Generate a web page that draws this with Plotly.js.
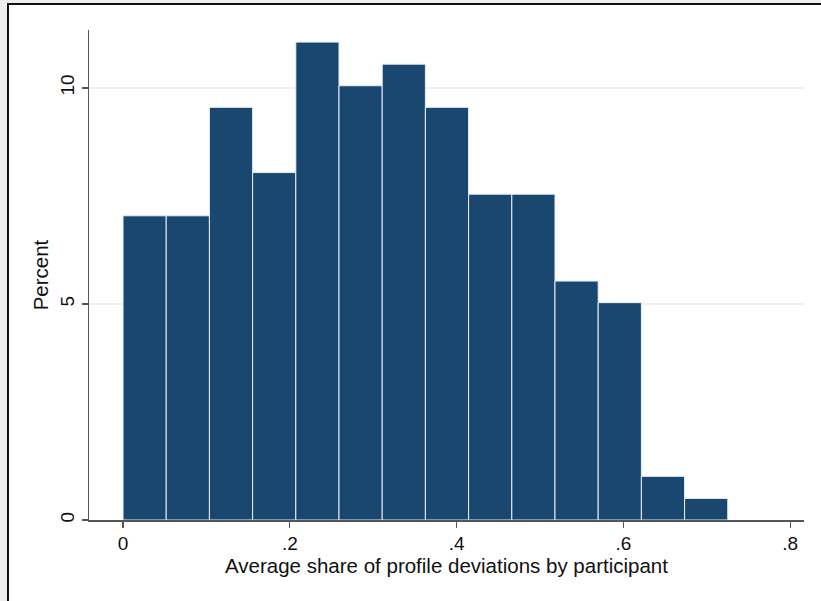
<!DOCTYPE html>
<html>
<head>
<meta charset="utf-8">
<script src="https://cdn.plot.ly/plotly-3.0.1.min.js"></script>
<style>
html,body{margin:0;padding:0;background:#efefef;width:821px;height:601px;overflow:hidden;}
#frame{position:absolute;left:7px;top:3px;width:814px;height:598px;border-top:2px solid #111;border-left:2px solid #111;background:#fff;}
#chart{position:absolute;left:0;top:0;width:812px;height:596px;}
</style>
</head>
<body>
<div id="frame"><div id="chart"></div></div>
<script>
// Histogram data
const binStart = 0;
const binWidth = 0.0518;
const percent = [7.04, 7.04, 9.55, 8.04, 11.06, 10.05, 10.55, 9.55, 7.54, 7.54, 5.53, 5.03, 1.01, 0.50];
const xTickVals = [0, 0.2, 0.4, 0.6, 0.8];
const xTickText = ['0', '.2', '.4', '.6', '.8'];
const yTickVals = [0, 5, 10];
const yTickText = ['0', '5', '10'];

const centers = percent.map((_, i) => binStart + binWidth * (i + 0.5));

const trace = {
  type: 'bar',
  x: centers,
  y: percent,
  width: percent.map(() => binWidth),
  marker: {color: '#1a476f', line: {color: '#e8eef4', width: 1}},
  hoverinfo: 'skip'
};

const font = {family: 'Arial, "Liberation Sans", sans-serif', color: '#111', size: 20.5};

const layout = {
  width: 812, height: 596,
  margin: {l: 80, r: 17, t: 25, b: 81},
  paper_bgcolor: '#ffffff',
  plot_bgcolor: '#ffffff',
  font: font,
  showlegend: false,
  bargap: 0,
  xaxis: {
    range: [-0.0408, 0.8166],
    tickvals: xTickVals, ticktext: xTickText,
    ticks: 'outside', ticklen: 6, tickwidth: 1.3, tickcolor: '#555',
    showline: true, linecolor: '#555', linewidth: 1.5,
    showgrid: false, zeroline: false,
    tickfont: {size: 19},
    title: {text: 'Average share of profile deviations by participant', font: {size: 20.5}, standoff: 0}
  },
  yaxis: {
    range: [0, 11.34],
    tickvals: yTickVals, ticktext: yTickText,
    tickangle: -90,
    ticks: 'outside', ticklen: 6, tickwidth: 1.3, tickcolor: '#555',
    showline: true, linecolor: '#555', linewidth: 1.5,
    showgrid: true, gridcolor: '#eaf2f3', gridwidth: 1.3,
    zeroline: false,
    tickfont: {size: 19},
    title: {text: 'Percent', font: {size: 20.5}, standoff: 2}
  }
};

Plotly.newPlot('chart', [trace], layout, {displayModeBar: false, staticPlot: true});
</script>
</body>
</html>
